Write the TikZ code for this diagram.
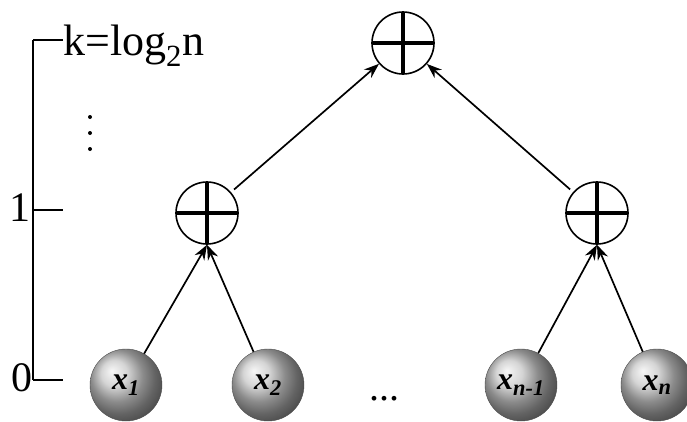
\documentclass[tikz,border=0pt]{standalone}
\usepackage{fontspec}
\setmainfont{Liberation Serif}
\usepackage{tikz}
\usetikzlibrary{arrows.meta,shadings}
\tikzset{>={Stealth[length=15pt,width=11pt]}}
\tikzset{
  adder/.style   ={ circle, draw=black, line width=1.6pt, minimum size=62pt, inner sep=0pt,
                    path picture={
                      \draw[line width=3.4pt] (path picture bounding box.north) -- (path picture bounding box.south);
                      \draw[line width=3.4pt] (path picture bounding box.west) -- (path picture bounding box.east);} },
  leaf/.style    ={ circle, draw=black!70, thin, minimum size=72pt, inner sep=0pt,
                    shading=ball, ball color=black!22,
                    font=\fontsize{32}{32}\selectfont\bfseries\itshape },
  flow/.style    ={ ->, line width=1.7pt, draw=black },
  axis/.style    ={ line width=1.8pt, draw=black },
  level/.style   ={ font=\fontsize{40}{40}\selectfont, inner sep=0pt },
}
\begin{document}
\begin{tikzpicture}[x=1pt,y=-1pt]
\useasboundingbox (0,0) rectangle (687,421);

\node[adder] (top) at (403,43) {};
\node[adder] (L) at (207,213) {};
\node[adder] (R) at (597,213) {};

\node[leaf] (x1) at (126,385) {x\textsubscript{1}};
\node[leaf] (x2) at (268,385) {x\textsubscript{2}};
\node[leaf] (xm) at (521,385) {x\textsubscript{n-1}};
\node[leaf] (xn) at (657,385) {x\textsubscript{n}};
\node[level, anchor=base] (hdots) at (384,400) {...};

\draw[flow] (x1) -- (L.south);
\draw[flow] (x2) -- (L.south);
\draw[flow] (xm) -- (R.south);
\draw[flow] (xn) -- (R.south);
\draw[flow, shorten <=4pt] (L) -- (top);
\draw[flow, shorten <=4pt] (R) -- (top);

\coordinate (axk) at (33,40);
\coordinate (ax1) at (33,210);
\coordinate (ax0) at (33,380);
\draw[axis] (axk) -- (ax0);
\draw[axis] (axk) -- ++(30,0);
\draw[axis] (ax1) -- ++(30,0);
\draw[axis] (ax0) -- ++(30,0);

\node[level, anchor=base west, font=\fontsize{44}{44}\selectfont] (kl) at (63,55) {k=log\textsubscript{2}n};
\node[level, anchor=base, font=\fontsize{42}{42}\selectfont] (l1) at (20,221) {1};
\node[level, anchor=base, font=\fontsize{42}{42}\selectfont] (l0) at (22,391) {0};
\fill (90,117) circle (2pt) (90,133) circle (2pt) (90,149) circle (2pt);

\end{tikzpicture}
\end{document}
